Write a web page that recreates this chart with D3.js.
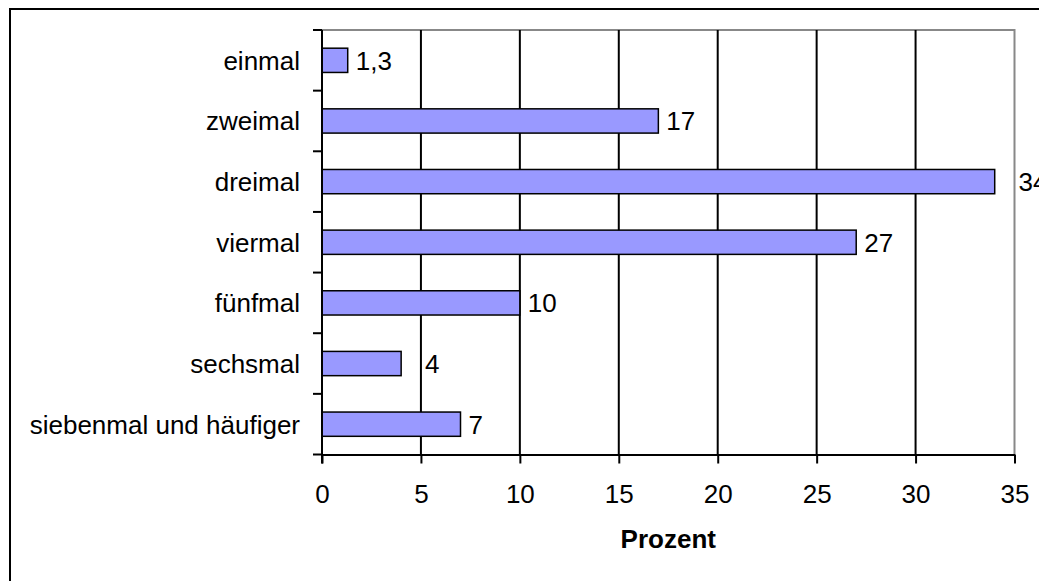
<!DOCTYPE html>
<html>
<head>
<meta charset="utf-8">
<script src="https://cdn.jsdelivr.net/npm/d3@7"></script>
<style>
  body { margin: 0; background: #fff; }
  svg { display: block; font-family: "Liberation Sans", Arial, sans-serif; }
</style>
</head>
<body>
<div id="chart"></div>
<script>
// categories and values (Prozent)
var categories = ["einmal", "zweimal", "dreimal", "viermal", "fünfmal", "sechsmal", "siebenmal und häufiger"]
var values = [1.3, 17, 34, 27, 10, 4, 7]
var valueLabels = ["1,3", "17", "34", "27", "10", "4", "7"]
var xTicks = [0, 5, 10, 15, 20, 25, 30, 35]
var axisTitle = "Prozent"

var W = 1039, H = 581
var plotLeft = 322, plotRight = 1014.5, plotTop = 30, plotBottom = 454.5
var fs = 26

var svg = d3.select("#chart").append("svg")
  .attr("width", W)
  .attr("height", H)

// outer frame, runs off the right and bottom edge
svg.append("rect")
  .attr("x", 10).attr("y", 9)
  .attr("width", 1060).attr("height", 600)
  .attr("fill", "none")
  .attr("stroke", "#000")
  .attr("stroke-width", 2)

var x = d3.scaleLinear().domain([0, 35]).range([plotLeft, plotRight])
var y = d3.scaleBand().domain(categories).range([plotTop, plotBottom])
  .paddingInner(0.6).paddingOuter(0.3)

// plot border top and right (grey)
svg.append("path")
  .attr("d", "M" + plotLeft + "," + plotTop + "H" + plotRight + "V" + plotBottom)
  .attr("fill", "none")
  .attr("stroke", "#888")
  .attr("stroke-width", 2)

// gridlines
svg.append("g").selectAll("line")
  .data(xTicks.filter(function(d){ return d > 0 && d < 35 }))
  .enter().append("line")
  .attr("x1", function(d){ return x(d) }).attr("x2", function(d){ return x(d) })
  .attr("y1", plotTop).attr("y2", plotBottom)
  .attr("stroke", "#000")
  .attr("stroke-width", 2)

// bars
svg.append("g").selectAll("rect")
  .data(values)
  .enter().append("rect")
  .attr("x", x(0))
  .attr("y", function(d, i){ return y(categories[i]) })
  .attr("width", function(d){ return x(d) - x(0) })
  .attr("height", y.bandwidth())
  .attr("fill", "#9999ff")
  .attr("stroke", "#000")
  .attr("stroke-width", 1.5)

// value labels, pushed past a gridline when they would sit on it
var labels = svg.append("g").selectAll("text")
  .data(values)
  .enter().append("text")
  .attr("x", function(d){ return x(d) + 8 })
  .attr("y", function(d, i){ return y(categories[i]) + y.bandwidth() / 2 })
  .attr("dy", "0.36em")
  .attr("font-size", fs)
  .attr("fill", "#000")
  .text(function(d, i){ return valueLabels[i] })
labels.each(function(d){
  var t = d3.select(this)
  var x0 = x(d) + 8, w = this.getComputedTextLength()
  xTicks.forEach(function(v){
    var gx = x(v)
    if (gx > x0 && gx < x0 + w) x0 = gx + 4
  })
  t.attr("x", x0)
})

// x axis
var xAxis = svg.append("g")
  .attr("transform", "translate(0," + plotBottom + ")")
  .call(d3.axisBottom(x).tickValues(xTicks).tickSize(9).tickSizeOuter(0).tickPadding(21))
xAxis.select(".domain").attr("stroke-width", 2)
xAxis.selectAll(".tick line").attr("stroke-width", 2)
xAxis.selectAll(".tick text")
  .attr("font-size", fs)
  .attr("font-family", "Liberation Sans, Arial, sans-serif")
  .attr("fill", "#000")

// y axis with ticks at band boundaries
var step = y.step()
var bounds = d3.range(categories.length + 1).map(function(i){ return plotTop + i * step })
svg.append("line")
  .attr("x1", plotLeft).attr("x2", plotLeft)
  .attr("y1", plotTop).attr("y2", plotBottom + 9)
  .attr("stroke", "#000").attr("stroke-width", 2)
svg.append("g").selectAll("line")
  .data(bounds)
  .enter().append("line")
  .attr("x1", plotLeft - 9).attr("x2", plotLeft)
  .attr("y1", function(d){ return d }).attr("y2", function(d){ return d })
  .attr("stroke", "#000").attr("stroke-width", 2)

svg.append("g").selectAll("text")
  .data(categories)
  .enter().append("text")
  .attr("x", 300)
  .attr("y", function(d){ return y(d) + y.bandwidth() / 2 })
  .attr("dy", "0.36em")
  .attr("text-anchor", "end")
  .attr("font-size", fs)
  .attr("fill", "#000")
  .text(function(d){ return d })

// axis title
svg.append("text")
  .attr("x", (plotLeft + plotRight) / 2)
  .attr("y", 548)
  .attr("text-anchor", "middle")
  .attr("font-size", fs)
  .attr("font-weight", "bold")
  .text(axisTitle)
</script>
</body>
</html>
